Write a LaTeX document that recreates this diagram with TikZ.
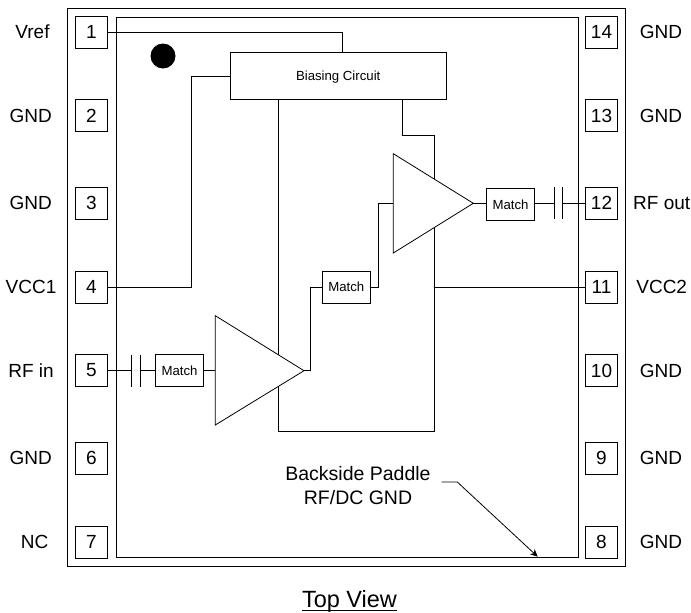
\documentclass[tikz,border=0pt]{standalone}
\usepackage{fontspec}
\setmainfont{Liberation Sans}
\usetikzlibrary{arrows.meta,calc}
\tikzset{
	pin/.style={draw, minimum size=32, inner sep=0, font=\fontsize{19}{23}\selectfont},
	pinlabel/.style={inner sep=0, font=\fontsize{19}{23}\selectfont},
	matchbox/.style={draw, minimum width=48, minimum height=32, inner sep=0, font=\fontsize{13.2}{16}\selectfont},
}
\begin{document}
\begin{tikzpicture}[x=1pt,y=-1pt,line width=0.8pt]
	\useasboundingbox (0,0) rectangle (691,613);
	
	\draw (67.3,8.3) rectangle (625.3,566);
	\draw (116,17) rectangle (578.3,557);
	\fill (163,56) circle (12.5);
	
	% pins
	\node [pin] (pin1) at (91.3,32) {1};
	\node [pin] (pin2) at (91.3,115.7) {2};
	\node [pin] (pin3) at (91.3,203.3) {3};
	\node [pin] (pin4) at (91.3,287) {4};
	\node [pin] (pin5) at (91.3,370.5) {5};
	\node [pin] (pin6) at (91.3,458) {6};
	\node [pin] (pin7) at (91.3,542) {7};
	\node [pin] (pin8) at (601.5,542) {8};
	\node [pin] (pin9) at (601.5,458) {9};
	\node [pin] (pin10) at (601.5,370.5) {10};
	\node [pin] (pin11) at (601.5,287) {11};
	\node [pin] (pin12) at (601.5,203.3) {12};
	\node [pin] (pin13) at (601.5,115.7) {13};
	\node [pin] (pin14) at (601.5,32) {14};
	
	\node [pinlabel] (vref) at (32.5,32) {Vref};
	\node [pinlabel] (gnd2) at (30.7,115.7) {GND};
	\node [pinlabel] (gnd3) at (30.7,203.3) {GND};
	\node [pinlabel] (vcc1) at (31,287) {VCC1};
	\node [pinlabel] (rfin) at (31,370.5) {RF in};
	\node [pinlabel] (gnd6) at (30.7,458) {GND};
	\node [pinlabel] (nc) at (34.7,542) {NC};
	\node [pinlabel] (gnd8) at (661,542) {GND};
	\node [pinlabel] (gnd9) at (661,458) {GND};
	\node [pinlabel] (gnd10) at (661,370.5) {GND};
	\node [pinlabel] (vcc2) at (661.7,287) {VCC2};
	\node [pinlabel] (rfout) at (661.7,203.3) {RF out};
	\node [pinlabel] (gnd13) at (661,115.7) {GND};
	\node [pinlabel] (gnd14) at (661,32) {GND};
	
	% blocks
	\node [draw, minimum width=215.7, minimum height=47.7, inner sep=0, text height=9.5, text depth=0, font=\fontsize{13.2}{16}\selectfont] (bias) at (338.2,75.9) {Biasing Circuit};
	\node [matchbox] (match1) at (179.5,370.5) {Match};
	\node [matchbox] (match2) at (346.3,287) {Match};
	\node [matchbox] (match3) at (510.5,204.3) {Match};
	
	\coordinate (amp1in) at (215.3,370.7);
	\coordinate (amp1out) at (304,370.7);
	\coordinate (amp2in) at (393.3,203.3);
	\coordinate (amp2out) at (473.3,203.3);
	\draw [line join=miter] (215.3,315.7) -- (amp1out) -- (215.3,425) -- cycle;
	\draw [line join=miter] (393.3,153.7) -- (amp2out) -- (393.3,253) -- cycle;
	
	% bias lines
	\coordinate (vreftop) at (342.7,32);
	\coordinate (vccleft) at (191.3,287);
	\coordinate (vccup) at (191.3,76);
	\coordinate (feedtop) at (278.7,99.7);
	\coordinate (feedend) at (278.7,355);
	\coordinate (railstart) at (278.7,386.2);
	\coordinate (railleft) at (278.7,431);
	\coordinate (railright) at (434.3,431);
	\coordinate (railend) at (434.3,227.5);
	\coordinate (vcctap) at (434.3,287);
	\coordinate (drvtop) at (402,99.7);
	\coordinate (drvturn) at (402,135.3);
	\coordinate (drvright) at (434.3,135.3);
	\coordinate (drvend) at (434.3,179.1);
	\draw (pin1) -- (vreftop) -- (vreftop |- bias.north);
	\draw (pin4) -- (vccleft) -- (vccup) -- (vccup -| bias.west);
	\draw (feedtop) -- (feedend);
	\draw (railstart) -- (railleft) -- (railright) -- (railend);
	\draw (drvtop) -- (drvturn) -- (drvright) -- (drvend);
	\draw (vcctap) -- (pin11);
	
	% rf path
	\coordinate (cap1a) at (131.7,370.5);
	\coordinate (cap1b) at (140,370.5);
	\coordinate (cap2a) at (554.3,203.3);
	\coordinate (cap2b) at (562.7,203.3);
	\draw (pin5) -- (cap1a);
	\draw ($(cap1a)+(0,-16)$) -- ($(cap1a)+(0,16)$);
	\draw ($(cap1b)+(0,-16)$) -- ($(cap1b)+(0,16)$);
	\draw (cap1b) -- (match1);
	\draw (match1) -- (match1 -| amp1in);
	\coordinate (mid1low) at (310.3,370.7);
	\coordinate (mid1up) at (310.3,287);
	\draw (amp1out) -- (mid1low) -- (mid1up) -- (match2);
	\coordinate (mid2low) at (378,287);
	\coordinate (mid2up) at (378,203.3);
	\draw (match2) -- (mid2low) -- (mid2up) -- (amp2in);
	\draw (amp2out) -- (amp2out -| match3.west);
	\draw (amp2out -| match3.east) -- (cap2a);
	\draw ($(cap2a)+(0,-16)$) -- ($(cap2a)+(0,16)$);
	\draw ($(cap2b)+(0,-16)$) -- ($(cap2b)+(0,16)$);
	\draw (cap2b) -- (pin12);
	
	% paddle note
	\node [inner sep=0, align=center, font=\fontsize{19.5}{24}\selectfont] (paddle) at (358,486) {Backside Paddle\\RF/DC GND};
	\coordinate (noteleft) at (441.7,482);
	\coordinate (notebend) at (457.3,482);
	\coordinate (notetip) at (537.7,556.7);
	\draw [-{Stealth[length=7.5,width=7]}] (noteleft) -- (notebend) -- (notetip);
	
	\node [inner sep=0, anchor=base, font=\fontsize{23.5}{28}\selectfont] (topview) at (349.5,607.5) {Top View};
	\draw ($(topview.base west)+(0,2.8)$) -- ($(topview.base east)+(0,2.8)$);
\end{tikzpicture}
\end{document}
